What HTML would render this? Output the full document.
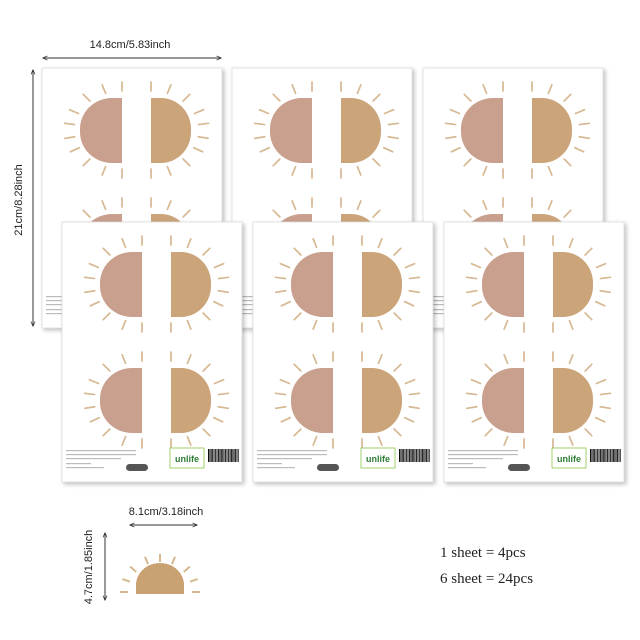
<!DOCTYPE html>
<html><head><meta charset="utf-8"><style>
html,body{margin:0;padding:0;background:#fff}
svg{display:block}
text{font-family:"Liberation Sans",sans-serif}
</style></head><body>
<svg id="s" width="640" height="640" viewBox="0 0 640 640" xmlns="http://www.w3.org/2000/svg">
<defs>
<filter id="sh" x="-10%" y="-10%" width="130%" height="130%"><feDropShadow dx="2" dy="2" stdDeviation="2" flood-color="#000" flood-opacity="0.25"/></filter>
<marker id="ah" viewBox="0 0 10 10" refX="9" refY="5" markerWidth="5" markerHeight="5" orient="auto-start-reverse"><path d="M0,1 L10,5 L0,9" fill="none" stroke="#333" stroke-width="1.5"/></marker>
</defs>
<g id="sheets"></g>
<text x="130" y="48" font-size="11" text-anchor="middle" fill="#222">14.8cm/5.83inch</text>
<line x1="43" y1="58" x2="221" y2="58" stroke="#333" stroke-width="1" marker-start="url(#ah)" marker-end="url(#ah)"/>
<text transform="translate(22,200) rotate(-90)" font-size="11" text-anchor="middle" fill="#222">21cm/8.28inch</text>
<line x1="33" y1="70" x2="33" y2="326" stroke="#333" stroke-width="1" marker-start="url(#ah)" marker-end="url(#ah)"/>
<text x="166" y="515" font-size="11" text-anchor="middle" fill="#222">8.1cm/3.18inch</text>
<line x1="130" y1="525" x2="197" y2="525" stroke="#333" stroke-width="1" marker-start="url(#ah)" marker-end="url(#ah)"/>
<text transform="translate(92,567) rotate(-90)" font-size="11" text-anchor="middle" fill="#222">4.7cm/1.85inch</text>
<line x1="105" y1="533" x2="105" y2="600" stroke="#333" stroke-width="1" marker-start="url(#ah)" marker-end="url(#ah)"/>
<path d="M136,594 L136,585 A24,22 0 0 1 184,585 L184,594 Z" fill="#c9a173"/>
<g id="smallrays" stroke="#d6b88e" stroke-width="2"></g>
<text x="440" y="557" font-size="15" fill="#222" style="font-family:'Liberation Serif',serif">1 sheet = 4pcs</text>
<text x="440" y="583" font-size="15" fill="#222" style="font-family:'Liberation Serif',serif">6 sheet = 24pcs</text>
</svg>
<script>
var NS="http://www.w3.org/2000/svg";
function el(t,a,p){var e=document.createElementNS(NS,t);for(var k in a)e.setAttribute(k,a[k]);p.appendChild(e);return e;}
var G=document.getElementById("sheets");
function sun(g,cy){
  var t=cy-32,b=cy+33;
  el("path",{d:"M80,"+t+" L80,"+b+" L70,"+b+" A32,31 0 0 1 38,"+(b-31)+" L38,"+(t+31)+" A32,31 0 0 1 70,"+t+" Z",fill:"#c9a08e"},g);
  el("path",{d:"M109,"+t+" L109,"+b+" L119,"+b+" A30,31 0 0 0 149,"+(b-31)+" L149,"+(t+31)+" A30,31 0 0 0 119,"+t+" Z",fill:"#cba47a"},g);
  var angs=[90,110,132,155,172,190,207,228,250,270];
  angs.forEach(function(a){
    var r=a*Math.PI/180;
    [[80,1],[109,-1]].forEach(function(c){
      var dx=Math.cos(r)*c[1],dy=-Math.sin(r);
      var x1=c[0]+dx*48,y1=cy+dy*39,x2=c[0]+dx*58,y2=cy+dy*48;
      el("line",{x1:x1,y1:y1,x2:x2,y2:y2,stroke:"#d6b892","stroke-width":1.7,"stroke-linecap":"round"},g);
    });
  });
}
function sheet(x,y){
  var g=el("g",{transform:"translate("+x+","+y+")"},G);
  el("rect",{x:0,y:0,width:180,height:260,fill:"#fff",stroke:"#ddd","stroke-width":0.8,filter:"url(#sh)"},g);
  sun(g,62);sun(g,178);
  [[228,70],[232,70],[236,55],[241,25],[245,38]].forEach(function(l){el("rect",{x:4,y:l[0],width:l[1],height:1.2,fill:"#bbb"},g);});
  el("rect",{x:64,y:242,width:22,height:7,rx:3.5,fill:"#555"},g);
  el("rect",{x:108,y:226,width:34,height:20,fill:"#fff",stroke:"#8bc34a","stroke-width":0.8},g);
  var t=el("text",{x:125,y:240,"font-size":9,"font-weight":"bold","text-anchor":"middle",fill:"#2e7d32"},g);t.textContent="unlife";
  for(var i=0;i<28;i++){el("rect",{x:146+i*1.1,y:227,width:(i%3?0.6:1),height:13,fill:"#111"},g);}
}
[[42,68],[232,68],[423,68],[62,222],[253,222],[444,222]].forEach(function(p){sheet(p[0],p[1]);});
var sr=document.getElementById("smallrays");
[0,20,42,68,90,112,138,160,180].forEach(function(a){
  var r=a*Math.PI/180,cx=160,cy=592;
  el("line",{x1:cx+Math.cos(r)*32,y1:cy-Math.sin(r)*30,x2:cx+Math.cos(r)*40,y2:cy-Math.sin(r)*38},sr);
});
</script>
</body></html>
